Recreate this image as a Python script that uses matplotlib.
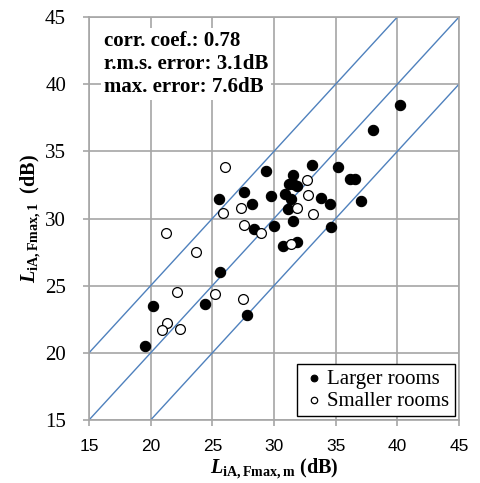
import matplotlib
matplotlib.use('Agg')
import matplotlib.pyplot as plt
import numpy as np

# Larger rooms (filled)
large_x = [19.5, 20.2, 24.4, 25.5, 25.6, 27.6, 27.85, 28.2, 28.4, 29.35, 29.75, 30.0,
           30.7, 30.9, 31.15, 31.25, 31.35, 31.5, 31.55, 31.55, 31.85, 31.9, 33.05,
           33.8, 34.55, 34.6, 35.15, 36.2, 36.55, 37.05, 38.05, 40.2]
large_y = [20.5, 23.45, 23.6, 31.45, 26.0, 31.95, 22.8, 31.05, 29.2, 33.55, 31.65, 29.45,
           27.95, 31.85, 30.7, 32.55, 31.45, 33.25, 32.55, 29.85, 32.4, 28.25, 33.95,
           31.5, 31.05, 29.35, 33.8, 32.95, 32.95, 31.3, 36.6, 38.45]

# Smaller rooms (open)
small_x = [21.25, 23.7, 26.05, 25.9, 27.35, 27.6, 28.95, 22.15, 25.2, 27.45, 21.3,
           20.95, 22.35, 32.65, 32.75, 31.85, 33.15, 31.35]
small_y = [28.95, 27.5, 33.85, 30.4, 30.75, 29.5, 28.9, 24.55, 24.4, 24.0, 22.25,
           21.7, 21.8, 32.9, 31.75, 30.8, 30.3, 28.1]

offsets = [5, 0, -5]
ticks = [15, 20, 25, 30, 35, 40, 45]
stats = ['corr. coef.: 0.78', 'r.m.s. error: 3.1dB', 'max. error: 7.6dB']

plt.rcParams['mathtext.fontset'] = 'custom'
plt.rcParams['mathtext.rm'] = 'Liberation Serif:bold'
plt.rcParams['mathtext.it'] = 'Liberation Serif:bold:italic'
plt.rcParams['mathtext.bf'] = 'Liberation Serif:bold'

grid_c = '#a6a6a6'
fig = plt.figure(figsize=(4.8, 4.83), dpi=100)
ax = fig.add_axes([89/480, 63/483, 370/480, 403/483])

xx = np.array([15, 45])
for off in offsets:
    ax.plot(xx, xx + off, color='#4f81bd', lw=1.0, zorder=2)

ax.scatter(large_x, large_y, s=55, c='black', edgecolors='black', lw=0.8,
           zorder=3, label='Larger rooms')
ax.scatter(small_x, small_y, s=50, c='white', edgecolors='black', lw=0.9,
           zorder=3, label='Smaller rooms')

ax.set_xlim(15, 45)
ax.set_ylim(15, 45)
ax.set_xticks(ticks)
ax.set_yticks(ticks)
ax.grid(True, color=grid_c, lw=1.2, zorder=0)
ax.set_axisbelow(True)
for sp in ax.spines.values():
    sp.set_color(grid_c)
    sp.set_linewidth(1.2)
ax.tick_params(direction='out', length=4.5, width=1.2, color=grid_c)
ax.tick_params(axis='x', pad=9)
ax.tick_params(axis='y', pad=12)
for lab in ax.get_xticklabels():
    lab.set_fontfamily('Liberation Sans')
    lab.set_fontsize(12.5)
for lab in ax.get_yticklabels():
    lab.set_fontfamily('Liberation Serif')
    lab.set_fontsize(15)

ax.set_xlabel(r'$L_{\mathrm{iA,Fmax,m}}$ (dB)', fontfamily='Liberation Serif',
              fontweight='bold', fontsize=14.5, labelpad=2)
ax.set_ylabel(r'$L_{\mathrm{iA,Fmax,1}}$  (dB)', fontfamily='Liberation Serif',
              fontweight='bold', fontsize=14.5)
ax.yaxis.set_label_coords(-0.125, 0.5)

ax.text(0.04, 0.965, '\n'.join(stats), transform=ax.transAxes, va='top', ha='left',
        fontfamily='Liberation Serif', fontweight='bold', fontsize=15, linespacing=1.2,
        bbox=dict(facecolor='white', edgecolor='none', pad=2), zorder=4)

leg = ax.legend(loc='lower right', prop={'family': 'Liberation Serif', 'size': 15},
                fancybox=False, edgecolor='black', framealpha=1, borderpad=0.25,
                handletextpad=0.1, handlelength=1.1, markerscale=0.65,
                borderaxespad=0.2, labelspacing=0.1)
leg.get_frame().set_linewidth(1.0)

plt.savefig('out.png', dpi=100)
